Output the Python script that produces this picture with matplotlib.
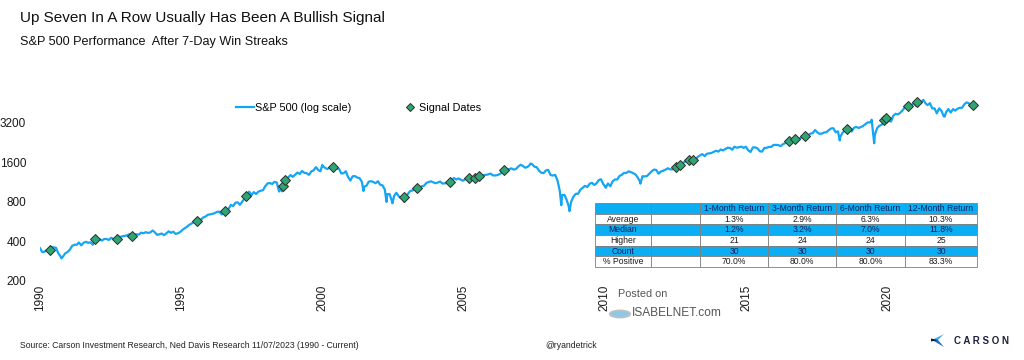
import numpy as np
import pandas as pd
import matplotlib
matplotlib.use("Agg")
import matplotlib.pyplot as plt
from matplotlib.patches import Polygon, Circle

plt.rcParams['font.family'] = ['Liberation Sans', 'DejaVu Sans']

# ---------------- data ----------------
# S&P 500 month-end closes, Dec 1989 .. Oct 2023 (read from chart / approx.)
sp_monthly = [
    353,
    329, 332, 340, 331, 361, 358, 356, 323, 306, 304, 322, 330,
    344, 367, 375, 375, 390, 371, 388, 395, 388, 392, 375, 417,
    409, 413, 404, 415, 415, 408, 424, 414, 418, 419, 431, 436,
    439, 443, 452, 440, 450, 451, 448, 464, 459, 468, 462, 466,
    482, 467, 446, 451, 457, 444, 458, 475, 463, 472, 454, 459,
    470, 487, 501, 515, 533, 545, 562, 562, 584, 582, 606, 616,
    636, 640, 646, 654, 669, 671, 640, 652, 687, 705, 757, 741,
    786, 791, 757, 801, 848, 885, 954, 899, 947, 915, 955, 970,
    980, 1049, 1102, 1112, 1091, 1134, 1121, 957, 1017, 1099, 1164, 1229,
    1280, 1238, 1286, 1335, 1302, 1373, 1329, 1320, 1283, 1363, 1389, 1469,
    1394, 1366, 1499, 1452, 1421, 1455, 1431, 1518, 1437, 1429, 1315, 1320,
    1366, 1240, 1160, 1249, 1256, 1224, 1211, 1134, 1041, 1060, 1139, 1148,
    1130, 1107, 1147, 1077, 1067, 990, 912, 916, 815, 886, 936, 880,
    856, 841, 848, 917, 964, 975, 990, 1008, 996, 1051, 1058, 1112,
    1131, 1145, 1126, 1107, 1121, 1141, 1102, 1104, 1115, 1130, 1174, 1212,
    1181, 1204, 1181, 1157, 1192, 1191, 1234, 1220, 1229, 1207, 1249, 1248,
    1280, 1281, 1295, 1311, 1270, 1270, 1277, 1304, 1336, 1378, 1401, 1418,
    1438, 1407, 1421, 1482, 1531, 1503, 1455, 1474, 1527, 1549, 1481, 1468,
    1379, 1331, 1323, 1386, 1400, 1280, 1267, 1283, 1166, 969, 896, 903,
    826, 735, 798, 873, 919, 919, 987, 1021, 1057, 1036, 1096, 1115,
    1074, 1104, 1169, 1187, 1089, 1031, 1102, 1049, 1141, 1183, 1181, 1258,
    1286, 1327, 1326, 1364, 1345, 1321, 1292, 1219, 1131, 1253, 1247, 1258,
    1312, 1366, 1408, 1398, 1310, 1362, 1379, 1407, 1441, 1412, 1416, 1426,
    1498, 1515, 1569, 1598, 1631, 1606, 1686, 1633, 1682, 1757, 1806, 1848,
    1783, 1859, 1872, 1884, 1924, 1960, 1931, 2003, 1972, 2018, 2068, 2059,
    1995, 2105, 2068, 2086, 2107, 2063, 2104, 1972, 1920, 2079, 2080, 2044,
    1940, 1932, 2060, 2065, 2097, 2099, 2174, 2171, 2168, 2126, 2199, 2239,
    2279, 2364, 2363, 2384, 2412, 2423, 2470, 2472, 2519, 2575, 2648, 2674,
    2824, 2714, 2641, 2648, 2705, 2718, 2816, 2902, 2914, 2712, 2760, 2507,
    2704, 2784, 2834, 2946, 2752, 2942, 2980, 2926, 2977, 3038, 3141, 3231,
    3226, 2954, 2585, 2912, 3044, 3100, 3271, 3500, 3363, 3270, 3622, 3756,
    3714, 3811, 3973, 4181, 4204, 4298, 4395, 4523, 4308, 4605, 4567, 4766,
    4516, 4374, 4530, 4132, 4132, 3785, 4130, 3955, 3586, 3872, 4080, 3840,
    4077, 3970, 4109, 4169, 4180, 4450, 4589, 4508, 4288, 4194,
]
# intra-month extremes visible on the chart
sp_extreme_dates = ["1990-10-11", "1998-10-08", "2000-03-24", "2001-09-21", "2002-07-23",
                    "2002-10-09", "2003-03-11", "2007-10-09", "2008-11-20", "2009-03-09",
                    "2010-07-02", "2011-10-03", "2018-12-24", "2020-02-19", "2020-03-23",
                    "2022-01-03", "2022-10-12", "2023-10-27", "2023-11-07"]
sp_extreme_values = [295, 960, 1527, 966, 797, 777, 800, 1565, 752, 677,
                     1022, 1099, 2351, 3386, 2237, 4797, 3577, 4117, 4378]

# 7-day win streak signal dates (decimal years) and index levels
signal_years = [1990.36, 1992.00, 1992.80, 1993.34, 1995.69, 1996.70, 1997.45, 1998.80,
                1998.89, 2000.60, 2003.20, 2003.66, 2004.84, 2005.53, 2005.76, 2005.92,
                2006.82, 2013.04, 2013.19, 2013.50, 2013.67, 2017.13, 2017.37, 2017.73,
                2019.23, 2020.58, 2020.65, 2021.46, 2021.78, 2023.82]
signal_values = [340, 413, 413, 438, 565, 681, 883, 1060, 1179, 1475, 868, 1017, 1138,
                 1221, 1213, 1265, 1391, 1467, 1536, 1669, 1680, 2336, 2407, 2538,
                 2888, 3369, 3508, 4316, 4656, 4360]

year_labels = ["1990", "1995", "2000", "2005", "2010", "2015", "2020"]
ytick_values = [200, 400, 800, 1600, 3200]

table_cols = ["", "", "1-Month Return", "3-Month Return", "6-Month Return", "12-Month Return"]
table_rows = ["Average", "Median", "Higher", "Count", "% Positive"]
table_1m = ["1.3%", "1.2%", "21", "30", "70.0%"]
table_3m = ["2.9%", "3.2%", "24", "30", "80.0%"]
table_6m = ["6.3%", "7.0%", "24", "30", "80.0%"]
table_12m = ["10.3%", "11.8%", "25", "30", "83.3%"]


def dec_year(ts):
    ts = pd.DatetimeIndex(ts)
    return ts.year + (ts.dayofyear - 1) / 365.25


m_dates = pd.date_range("1989-12-31", periods=len(sp_monthly), freq="ME")
m_dates = pd.DatetimeIndex([pd.Timestamp("1990-01-01")]).append(m_dates[1:])
all_dates = m_dates.append(pd.DatetimeIndex(pd.to_datetime(sp_extreme_dates)))
all_vals = list(sp_monthly) + list(sp_extreme_values)
ser = pd.Series(all_vals, index=all_dates).sort_index()
ser = ser[~ser.index.duplicated(keep="last")]
x_line = dec_year(ser.index)
y_line = ser.values

# ---------------- figure ----------------
W, H = 1024, 360
fig = plt.figure(figsize=(W / 100, H / 100), dpi=100)

def fx(px):
    return px / W

def fy(py):
    return 1 - py / H

ax_l, ax_r, ax_t, ax_b = 40, 985, 83.5, 280.5
ax = fig.add_axes([fx(ax_l), fy(ax_b), fx(ax_r - ax_l), (ax_b - ax_t) / H])

line_col = "#14A6F5"
ax.plot(x_line, y_line, color=line_col, lw=1.6, label="S&P 500 (log scale)", zorder=2)
ax.plot(signal_years, signal_values, ls="none", marker="D", ms=4.8, mfc="#2FA672",
        mec="#2b2b2b", mew=0.7, label="Signal Dates", zorder=3)

ax.set_yscale("log")
ax.set_ylim(200, 6400)
ax.set_xlim(1990.0, 1990.0 + (ax_r - ax_l) / 27.6)
ax.set_yticks(ytick_values)
ax.set_yticklabels([str(v) for v in ytick_values])
ax.yaxis.set_minor_locator(matplotlib.ticker.NullLocator())
tick_pos = [1990.0, 1995.1, 2000.25, 2005.35, 2010.45, 2015.6, 2020.7]
ax.set_xticks(tick_pos)
ax.set_xticklabels(year_labels, rotation=90, va="top", ha="center")
ax.tick_params(axis="both", length=0, labelsize=8.5, colors="#1a1a1a")
ax.tick_params(axis="y", pad=10)
ax.tick_params(axis="x", pad=3)
for s in ax.spines.values():
    s.set_visible(False)
ax.patch.set_alpha(0)

leg = ax.legend(loc="center", bbox_to_anchor=((359 - ax_l) / (ax_r - ax_l), (ax_b - 108) / (ax_b - ax_t)),
                ncol=2, frameon=False, fontsize=7.8, handlelength=1.6, handletextpad=0.1,
                columnspacing=4.6, borderaxespad=0, markerscale=0.8)

# ---------------- titles ----------------
fig.text(fx(20), fy(18), "Up Seven In A Row Usually Has Been A Bullish Signal",
         fontsize=11.0, va="center", ha="left", color="#111111")
fig.text(fx(20), fy(42), "S&P 500 Performance  After 7-Day Win Streaks",
         fontsize=9.1, va="center", ha="left", color="#111111")

narrow = ['Liberation Sans Narrow', 'Liberation Sans']
fig.text(fx(20), fy(345), "Source: Carson Investment Research, Ned Davis Research 11/07/2023 (1990 - Current)",
         fontsize=6.2, va="center", ha="left", color="#222222", family=narrow)
fig.text(fx(545), fy(345), "@ryandetrick", fontsize=6.2, va="center", ha="left",
         color="#222222", family=narrow)

# watermark
fig.text(fx(618), fy(294), "Posted on", fontsize=7.8, va="center", ha="left", color="#555555", family=narrow)
fig.text(fx(632), fy(313), "ISABELNET.com", fontsize=8.6, va="center", ha="left", color="#555555", family=narrow)
fig.patches.append(Circle((fx(620), fy(314)), 0.010, transform=fig.transFigure,
                          facecolor="#8cc8e8", edgecolor="#c0c0c0", lw=1.2))

# Carson logo
logo = [
    ([(944, 334), (932, 340), (938, 340)], "#3bb3f0"),
    ([(932, 340), (944, 347), (938, 340)], "#1f6fd0"),
    ([(931, 338.5), (938, 340), (931, 341.5)], "#0e1a3a"),
]
for pts, col in logo:
    fig.patches.append(Polygon([(fx(a), fy(b)) for a, b in pts], closed=True,
                               transform=fig.transFigure, facecolor=col, edgecolor="none"))
fig.text(fx(954), fy(341), "C A R S O N", fontsize=7.0, fontweight="bold", va="center",
         ha="left", color="#1b2340")

# ---------------- table ----------------
t_l, t_r, t_t, t_b = 595, 977, 203, 267
tax = fig.add_axes([fx(t_l), fy(t_b), fx(t_r - t_l), (t_b - t_t) / H])
tax.axis("off")
cell_text = [[r, "", a, b, c, d] for r, a, b, c, d in zip(table_rows, table_1m, table_3m, table_6m, table_12m)]
col_px = np.array([56, 49, 68, 68, 69, 72], dtype=float)
tbl = tax.table(cellText=cell_text, colLabels=table_cols, cellLoc="center",
                colWidths=list(col_px / col_px.sum()), bbox=[0, 0, 1, 1])
tbl.auto_set_font_size(False)
blue = "#0BAEF2"
for (r, c), cell in tbl.get_celld().items():
    cell.set_edgecolor("#7f7f7f")
    cell.set_linewidth(0.6)
    cell.get_text().set_fontsize(6.2)
    cell.get_text().set_color("#1a1a1a")
    if r in (0, 2, 4):
        cell.set_facecolor(blue)
        cell.get_text().set_color("#10205a")
    else:
        cell.set_facecolor("white")

fig.savefig("out.png", dpi=100)
